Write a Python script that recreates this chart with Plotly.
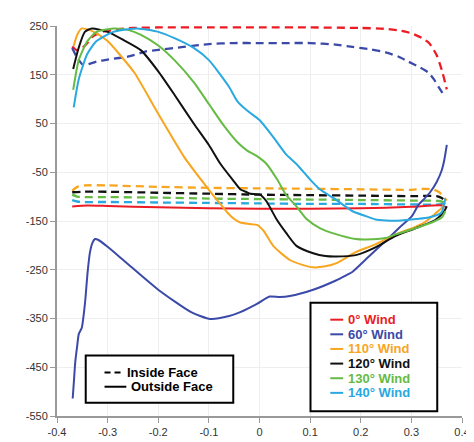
import plotly.graph_objects as go

# ---------------- data ----------------
# Inside face (dashed)
in0_x = [-0.37, -0.36, -0.35, -0.34, -0.33, -0.31, -0.28, -0.25, -0.2, -0.1, 0, 0.1, 0.2, 0.25, 0.28, 0.30, 0.32, 0.335, 0.35, 0.36, 0.37]
in0_y = [208, 200, 205, 215, 228, 238, 243, 246, 247, 247, 247, 247, 246, 244, 240, 235, 226, 215, 190, 160, 120]

in60_x = [-0.37, -0.36, -0.348, -0.322, -0.3, -0.256, -0.224, -0.2, -0.15, -0.1, -0.05, 0, 0.05, 0.1, 0.15, 0.184, 0.22, 0.249, 0.275, 0.294, 0.315, 0.333, 0.345, 0.353, 0.36, 0.367]
in60_y = [205, 185, 170, 177, 181, 188, 198, 201, 207, 213, 215, 215, 215, 215, 212, 207, 202, 196, 187, 177, 166, 155, 140, 126, 115, 105]

in110_x = [-0.37, -0.36, -0.345, -0.3, -0.2, -0.1, 0, 0.1, 0.2, 0.3, 0.327, 0.345, 0.355, 0.363, 0.37]
in110_y = [-88, -80, -77, -77, -80, -82, -83, -84, -85, -86, -84, -86, -91, -100, -108]

in120_x = [-0.37, -0.35, -0.3, -0.2, -0.1, 0, 0.1, 0.2, 0.3, 0.35, 0.36, 0.37]
in120_y = [-91, -90, -90, -92, -94, -96, -97, -98, -99, -99, -103, -112]

in130_x = [-0.37, -0.36, -0.35, -0.3, -0.2, -0.1, 0, 0.1, 0.2, 0.3, 0.355, 0.365, 0.37]
in130_y = [-96, -100, -101, -101, -102, -104, -105, -106, -107, -108, -109, -112, -116]

in140_x = [-0.37, -0.36, -0.35, -0.3, -0.2, -0.1, 0, 0.1, 0.2, 0.3, 0.355, 0.365, 0.37]
in140_y = [-107, -110, -111, -111, -112, -113, -114, -115, -115, -116, -116, -114, -110]

# Outside face (solid)
out0_x = [-0.37, -0.34, -0.3, -0.2, -0.1, 0, 0.1, 0.2, 0.3, 0.36, 0.37]
out0_y = [-120, -118, -119, -122, -124, -125, -125, -124, -121, -118, -122]

out60_x = [-0.369, -0.366, -0.364, -0.36, -0.357, -0.351, -0.347, -0.344, -0.34, -0.335, -0.33, -0.325, -0.318, -0.3, -0.266, -0.2, -0.135, -0.097, -0.06, -0.038, -0.005, 0.02, 0.04, 0.06, 0.106, 0.151, 0.17, 0.184, 0.216, 0.249, 0.275, 0.301, 0.314, 0.325, 0.337, 0.35, 0.36, 0.365, 0.37]
out60_y = [-514, -470, -440, -405, -382, -369, -340, -311, -260, -215, -195, -187, -189, -203, -233, -291, -337, -351, -345, -337, -320, -305, -306, -304, -291, -272, -262, -254, -223, -191, -165, -140, -117, -105, -91, -70, -46, -25, 6]

out110_x = [-0.367, -0.36, -0.351, -0.34, -0.322, -0.3, -0.275, -0.247, -0.2, -0.148, -0.103, -0.08, -0.064, -0.05, -0.038, -0.02, -0.005, 0.008, 0.027, 0.06, 0.085, 0.106, 0.13, 0.151, 0.19, 0.229, 0.268, 0.308, 0.327, 0.347, 0.36, 0.367]
out110_y = [209, 232, 245, 243, 235, 219, 190, 154, 70, -20, -82, -112, -132, -146, -153, -156, -158, -170, -201, -230, -240, -245, -243, -237, -214, -198, -178, -162, -152, -135, -123, -112]

out120_x = [-0.368, -0.357, -0.345, -0.331, -0.3, -0.27, -0.234, -0.2, -0.168, -0.13, -0.1, -0.077, -0.051, -0.038, -0.025, -0.018, 0.001, 0.014, 0.034, 0.053, 0.073, 0.106, 0.13, 0.151, 0.19, 0.229, 0.268, 0.308, 0.347, 0.363, 0.37]
out120_y = [162, 206, 238, 245, 238, 222, 200, 157, 109, 50, 6, -33, -68, -85, -91, -94, -96, -110, -147, -175, -201, -216, -222, -223, -220, -204, -181, -165, -148, -133, -120]

out130_x = [-0.368, -0.357, -0.34, -0.322, -0.289, -0.26, -0.234, -0.2, -0.168, -0.13, -0.1, -0.07, -0.044, -0.025, -0.005, 0.014, 0.035, 0.053, 0.073, 0.093, 0.12, 0.151, 0.19, 0.21, 0.249, 0.268, 0.308, 0.347, 0.36, 0.367]
out130_y = [119, 180, 219, 238, 245, 242, 232, 210, 180, 135, 90, 45, 12, -5, -17, -33, -65, -97, -120, -146, -165, -177, -187, -188, -185, -178, -165, -150, -143, -130]

out140_x = [-0.367, -0.357, -0.34, -0.322, -0.289, -0.256, -0.241, -0.2, -0.168, -0.13, -0.1, -0.06, -0.044, -0.025, 0, 0.025, 0.053, 0.073, 0.1, 0.119, 0.148, 0.184, 0.21, 0.229, 0.25, 0.28, 0.31, 0.334, 0.359, 0.367]
out140_y = [83, 141, 193, 219, 238, 244, 245, 238, 225, 205, 180, 125, 96, 77, 57, 25, -14, -33, -65, -85, -104, -130, -140, -147, -149, -149, -146, -143, -133, -104]

wind_labels = ["0° Wind", "60° Wind", "110° Wind", "120° Wind", "130° Wind", "140° Wind"]
colors = ["#ec1c24", "#3b4aa8", "#f8a51f", "#111111", "#66bb44", "#2aa8e0"]
face_labels = ["Inside Face", "Outside Face"]

x_ticks = [-0.4, -0.3, -0.2, -0.1, 0, 0.1, 0.2, 0.3, 0.4]
x_ticktext = ["-0.4", "-0.3", "-0.2", "-0.1", "0", "0.1", "0.2", "0.3", "0.4"]
y_ticks = [-550, -450, -350, -250, -150, -50, 50, 150, 250]
y_ticktext = ["-550", "-450", "-350", "-250", "-150", "-50", "50", "150", "250"]

inside = [(in0_x, in0_y), (in60_x, in60_y), (in110_x, in110_y), (in120_x, in120_y), (in130_x, in130_y), (in140_x, in140_y)]
outside = [(out0_x, out0_y), (out60_x, out60_y), (out110_x, out110_y), (out120_x, out120_y), (out130_x, out130_y), (out140_x, out140_y)]

fig = go.Figure()
for (xs, ys), c, name in zip(inside, colors, wind_labels):
    fig.add_trace(go.Scatter(x=xs, y=ys, mode="lines", name=name + " inside",
                             line=dict(color=c, width=2.3, dash="8px,5px", shape="spline", smoothing=0.6)))
for (xs, ys), c, name in zip(outside, colors, wind_labels):
    fig.add_trace(go.Scatter(x=xs, y=ys, mode="lines", name=name + " outside",
                             line=dict(color=c, width=2, shape="spline", smoothing=0.6)))

W, H = 474, 442
ml, mr, mt, mb = 49, 16, 14, 15
pw, ph = W - ml - mr, H - mt - mb

def px(x):
    return (x - ml) / pw

def py(y):
    return (H - mb - y) / ph

shapes = []
annotations = []
font_family = "Liberation Sans, Arial, sans-serif"

# right legend (wind directions)
shapes.append(dict(type="rect", xref="paper", yref="paper", x0=px(305), x1=px(433), y0=py(422), y1=py(307),
                   line=dict(color="black", width=2), fillcolor="white", layer="above"))
rows = [325, 340.5, 356, 371.5, 387, 402.5]
for r, c, lab in zip(rows, colors, wind_labels):
    shapes.append(dict(type="line", xref="paper", yref="paper", x0=px(325), x1=px(338), y0=py(r), y1=py(r),
                       line=dict(color=c, width=2), layer="above"))
    annotations.append(dict(xref="paper", yref="paper", x=px(341), y=py(r), text="<b>%s</b>" % lab,
                            showarrow=False, xanchor="left", yanchor="middle",
                            font=dict(family=font_family, size=13, color=c)))

# left legend (face type)
shapes.append(dict(type="rect", xref="paper", yref="paper", x0=px(78), x1=px(227), y0=py(413), y1=py(363),
                   line=dict(color="black", width=2), fillcolor="white", layer="above"))
shapes.append(dict(type="line", xref="paper", yref="paper", x0=px(97), x1=px(115), y0=py(381), y1=py(381),
                   line=dict(color="black", width=2, dash="6px,4px"), layer="above"))
shapes.append(dict(type="line", xref="paper", yref="paper", x0=px(97), x1=px(119), y0=py(396), y1=py(396),
                   line=dict(color="black", width=2), layer="above"))
annotations.append(dict(xref="paper", yref="paper", x=px(118), y=py(381), text="<b>%s</b>" % face_labels[0],
                        showarrow=False, xanchor="left", yanchor="middle",
                        font=dict(family=font_family, size=13, color="black")))
annotations.append(dict(xref="paper", yref="paper", x=px(122), y=py(396), text="<b>%s</b>" % face_labels[1],
                        showarrow=False, xanchor="left", yanchor="middle",
                        font=dict(family=font_family, size=13, color="black")))

fig.update_layout(
    width=W, height=H,
    margin=dict(l=ml, r=mr, t=mt, b=mb, pad=0),
    paper_bgcolor="white", plot_bgcolor="white",
    showlegend=False, hovermode=False,
    font=dict(family=font_family, size=11, color="#333333"),
    shapes=shapes, annotations=annotations,
)
fig.update_xaxes(range=[-0.4, 0.4], tickvals=x_ticks, ticktext=x_ticktext,
                 tickfont=dict(family=font_family, size=11, color="#333333"),
                 showgrid=True, gridcolor="#eeeeee", gridwidth=1, zeroline=False,
                 showline=True, linecolor="#999999", linewidth=2,
                 ticks="outside", ticklen=5, tickcolor="#999999", tickwidth=1)
fig.update_yaxes(range=[-550, 250], tickvals=y_ticks, ticktext=y_ticktext,
                 tickfont=dict(family=font_family, size=11, color="#333333"),
                 showgrid=True, gridcolor="#eeeeee", gridwidth=1, zeroline=False,
                 showline=True, linecolor="#999999", linewidth=2,
                 ticks="outside", ticklen=5, tickcolor="#999999", tickwidth=1)

fig.write_html("out.html")
